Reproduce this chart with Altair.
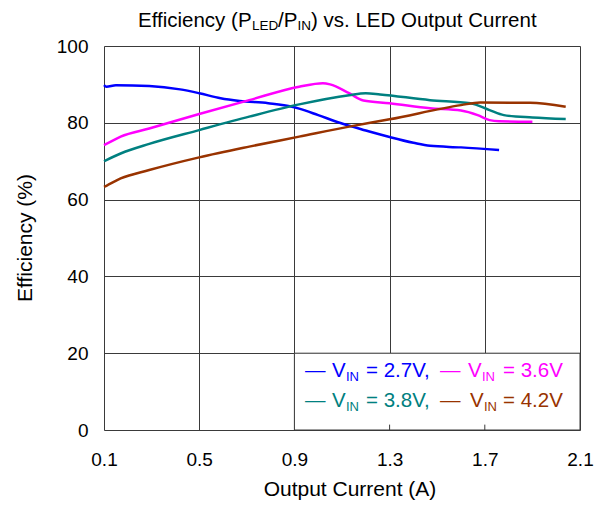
import altair as alt
import pandas as pd

# ---- data ----
cur_27 = [0.10, 0.11, 0.15, 0.29, 0.42, 0.50, 0.59, 0.67, 0.79, 0.89, 0.92, 1.00, 1.09, 1.20, 1.30, 1.40, 1.47, 1.60, 1.76]
eff_27 = [89.8, 89.4, 89.8, 89.6, 88.7, 87.7, 86.4, 85.7, 85.1, 84.2, 83.7, 82.0, 80.0, 78.0, 76.3, 74.8, 74.0, 73.6, 72.9]

cur_36 = [0.10, 0.11, 0.17, 0.29, 0.50, 0.71, 0.92, 1.02, 1.05, 1.13, 1.19, 1.30, 1.47, 1.60, 1.67, 1.72, 1.76, 1.90]
eff_36 = [74.2, 74.5, 76.4, 78.5, 82.3, 85.9, 89.4, 90.3, 90.0, 87.7, 85.8, 85.1, 83.8, 83.2, 82.0, 80.7, 80.4, 80.3]

cur_38 = [0.10, 0.11, 0.17, 0.29, 0.50, 0.71, 0.92, 1.13, 1.20, 1.26, 1.47, 1.64, 1.72, 1.78, 1.90, 2.04]
eff_38 = [70.0, 70.3, 72.0, 74.5, 78.1, 81.6, 84.8, 87.2, 87.7, 87.4, 85.9, 85.1, 83.3, 82.0, 81.4, 81.0]

cur_42 = [0.10, 0.11, 0.17, 0.29, 0.50, 0.71, 0.92, 1.13, 1.30, 1.60, 1.68, 1.89, 2.04]
eff_42 = [63.3, 63.6, 65.5, 67.7, 71.0, 73.8, 76.4, 79.0, 80.9, 84.6, 85.3, 85.2, 84.2]

series_names = ["2.7V", "3.6V", "3.8V", "4.2V"]
series_colors = ["#0000FF", "#FF00FF", "#008080", "#993300"]

x_ticks = [0.1, 0.5, 0.9, 1.3, 1.7, 2.1]
y_ticks = [0, 20, 40, 60, 80, 100]

rows = []
for name, xs, ys in zip(series_names, [cur_27, cur_36, cur_38, cur_42], [eff_27, eff_36, eff_38, eff_42]):
    for i, (a, b) in enumerate(zip(xs, ys)):
        rows.append({"series": name, "current": a, "eff": b, "order": i})
df = pd.DataFrame(rows)

FONT = "Liberation Sans"
W, H = 476, 384

xscale = alt.Scale(domain=[0.1, 2.1], nice=False, zero=False)
yscale = alt.Scale(domain=[0, 100], nice=False)

base = alt.Chart(df)

lines = base.mark_line(strokeWidth=2.5, interpolate="monotone").encode(
    x=alt.X("current:Q", scale=xscale,
            axis=alt.Axis(values=x_ticks, format=".1f", title=None, grid=True, ticks=False,
                          domain=False, labelPadding=20, labelFontSize=19, labelFont=FONT,
                          labelFlush=False, labelColor="black", gridColor="#3a3a3a", gridWidth=1)),
    y=alt.Y("eff:Q", scale=yscale,
            axis=alt.Axis(values=y_ticks, title=None, grid=True, ticks=False, domain=False,
                          labelPadding=16, labelFontSize=19, labelFont=FONT, labelColor="black",
                          labelFlush=False, gridColor="#3a3a3a", gridWidth=1)),
    color=alt.Color("series:N", scale=alt.Scale(domain=series_names, range=series_colors), legend=None),
    order="order:Q",
)

box = alt.Chart(pd.DataFrame({"x": [0.9], "x2": [2.1], "y": [0], "y2": [20]})).mark_rect(
    fill="white", stroke="#3a3a3a", strokeWidth=1
).encode(x=alt.X("x:Q", scale=xscale), x2="x2:Q", y=alt.Y("y:Q", scale=yscale), y2="y2:Q")

ticks_in = alt.Chart(pd.DataFrame({"x": [1.3, 1.7], "y": [0, 0], "y2": [1.4, 1.4]})).mark_rule(
    color="#3a3a3a", strokeWidth=1
).encode(x=alt.X("x:Q", scale=xscale), y=alt.Y("y:Q", scale=yscale), y2="y2:Q")

one = pd.DataFrame({"a": [0]})


def txt(s, x, y, size=19, color="black", angle=0, align="left", baseline="alphabetic"):
    return alt.Chart(one).mark_text(
        text=s, font=FONT, fontSize=size, color=color, angle=angle, align=align, baseline=baseline
    ).encode(x=alt.value(x), y=alt.value(y))


OX, OY = 104, 46  # plot origin in page pixels
texts = []
# title
TB = 27
texts += [
    txt("Efficiency (P", 138 - OX, TB - OY, size=20.5),
    txt("LED", 252 - OX, TB + 3 - OY, size=13.5),
    txt("/P", 278 - OX, TB - OY, size=20.5),
    txt("IN", 297.5 - OX, TB + 3 - OY, size=13.5),
    txt(") vs. LED Output Current", 311 - OX, TB - OY, size=20.5),
]
# axis titles
texts += [
    txt("Output Current (A)", 350 - OX, 490 - OY, size=21, align="center", baseline="middle"),
    txt("Efficiency (%)", 26 - OX, 238 - OY, size=21, angle=270, align="center", baseline="middle"),
]
# legend
leg = [
    (0, 377, 381, 305, 332, 346, 366, "= 2.7V,"),
    (1, 377, 381, 440, 468, 482, 503, "= 3.6V"),
    (2, 407, 411, 305, 332, 346, 366, "= 3.8V,"),
    (3, 407, 411, 440, 470, 484, 503, "= 4.2V"),
]
for idx, yb, ys, xd, xv, xi, xe, s in leg:
    c = series_colors[idx]
    texts += [
        txt("\u2014", xd - OX, yb - OY, size=20.5, color=c),
        txt("V", xv - OX, yb - OY, size=20.5, color=c),
        txt("IN", xi - OX, ys - OY, size=13, color=c),
        txt(s, xe - OX, yb - OY, size=20.5, color=c),
    ]

chart = alt.layer(lines, box, ticks_in, *texts).properties(
    width=W, height=H,
    autosize=alt.AutoSizeParams(type="none"),
    padding={"left": 96, "top": 38, "right": 18, "bottom": 70},
).configure_view(stroke="black", strokeWidth=2.5).configure(background="white")

chart.save("out.html", embed_options={"renderer": "svg", "actions": False})
